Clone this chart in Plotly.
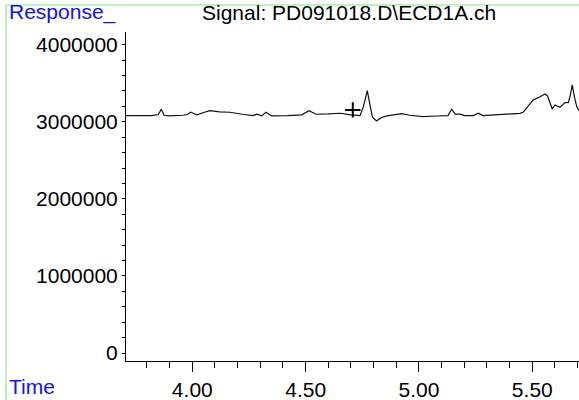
import plotly.graph_objects as go

# chromatogram (time in min, response)
time_min = [
    3.708, 3.820, 3.850, 3.863, 3.876, 3.900, 3.960, 3.978, 3.993, 4.010,
    4.021, 4.050, 4.078, 4.120, 4.166, 4.220, 4.268, 4.284, 4.300, 4.306,
    4.325, 4.350, 4.420, 4.483, 4.515, 4.546, 4.600, 4.652, 4.700, 4.740,
    4.755, 4.772, 4.785, 4.795, 4.813, 4.835, 4.858, 4.900, 4.924, 4.960,
    5.018, 5.080, 5.128, 5.144, 5.160, 5.181, 5.203, 5.240, 5.262, 5.282,
    5.350, 5.423, 5.445, 5.460, 5.485, 5.504, 5.526, 5.556, 5.567, 5.580,
    5.588, 5.600, 5.622, 5.644, 5.659, 5.668, 5.676, 5.686, 5.696, 5.706,
]
response = [
    3080000, 3080000, 3095000, 3163000, 3085000, 3078000, 3085000, 3095000, 3124000, 3100000,
    3089000, 3120000, 3145000, 3128000, 3124000, 3098000, 3080000, 3098000, 3080000, 3076000,
    3124000, 3076000, 3080000, 3090000, 3145000, 3098000, 3102000, 3111000, 3090000, 3080000,
    3200000, 3404000, 3200000, 3060000, 3012000, 3055000, 3076000, 3090000, 3106000, 3085000,
    3067000, 3075000, 3080000, 3163000, 3100000, 3100000, 3080000, 3080000, 3111000, 3080000,
    3090000, 3098000, 3110000, 3124000, 3220000, 3284000, 3313000, 3361000, 3335000, 3240000,
    3167000, 3219000, 3189000, 3249000, 3249000, 3350000, 3478000, 3320000, 3197000, 3145000,
]

# integration start marker
marker_time = [4.708]
marker_resp = [3154000]

title_text = "Signal: PD091018.D\\ECD1A.ch"
font_family = "Arial, Liberation Sans, sans-serif"

fig = go.Figure()
fig.add_trace(go.Scatter(
    x=time_min, y=response, mode="lines",
    line=dict(color="#111111", width=1.2), hoverinfo="skip", cliponaxis=False,
))
fig.add_trace(go.Scatter(
    x=marker_time, y=marker_resp, mode="markers",
    marker=dict(symbol="cross-thin", size=11, line=dict(color="black", width=2)),
    hoverinfo="skip",
))

fig.update_layout(
    width=579, height=400,
    margin=dict(l=126, r=0, t=32, b=38.5),
    paper_bgcolor="white", plot_bgcolor="white",
    showlegend=False,
    font=dict(family=font_family, size=21, color="black"),
)

fig.update_xaxes(
    range=[3.7075, 5.706], showgrid=False, zeroline=False, automargin=False,
    showline=True, linecolor="black", linewidth=1,
    tickmode="linear", tick0=4.0, dtick=0.5, tickformat=".2f",
    ticks="outside", ticklen=10, tickcolor="black",
    minor=dict(dtick=0.1, tick0=4.0, ticks="outside", ticklen=6, tickcolor="black"),
    tickfont=dict(size=21),
)
fig.update_yaxes(
    range=[-103600, 4165000], showgrid=False, zeroline=False, automargin=False,
    showline=True, linecolor="black", linewidth=1,
    tickmode="linear", tick0=0, dtick=1000000, tickformat="d",
    ticks="outside", ticklen=3, tickcolor="black",
    minor=dict(dtick=200000, tick0=0, ticks="outside", ticklen=3, tickcolor="black"),
    tickfont=dict(size=21),
)

# light green frame, top and left edges
fig.add_shape(type="line", xref="paper", yref="paper",
              x0=(6 - 126) / 453, x1=1.0, y0=(361.5 - 5) / 329.5, y1=(361.5 - 5) / 329.5,
              line=dict(color="#a6eea6", width=1.5))
fig.add_shape(type="line", xref="paper", yref="paper",
              x0=(6 - 126) / 453, x1=(6 - 126) / 453, y0=(361.5 - 5) / 329.5, y1=-0.2,
              line=dict(color="#a6eea6", width=1.5))

fig.add_annotation(text="Response_", xref="paper", yref="paper",
                   x=(7 - 126) / 453, y=(361.5 - 12) / 329.5,
                   xanchor="left", yanchor="middle", showarrow=False,
                   font=dict(color="#0f0fff", size=21))
fig.add_annotation(text="Time", xref="paper", yref="paper",
                   x=(7 - 126) / 453, y=(361.5 - 387) / 329.5,
                   xanchor="left", yanchor="middle", showarrow=False,
                   font=dict(color="#0f0fff", size=21))
fig.add_annotation(text=title_text, xref="paper", yref="paper",
                   x=(200 - 126) / 453, y=(361.5 - 12) / 329.5,
                   xanchor="left", yanchor="middle", showarrow=False,
                   font=dict(color="black", size=21))

# the page body has a default 8px margin; drop it so the figure fills the window
fig.write_html("out.html", config={"displayModeBar": False},
               post_script="document.body.style.margin='0';")
